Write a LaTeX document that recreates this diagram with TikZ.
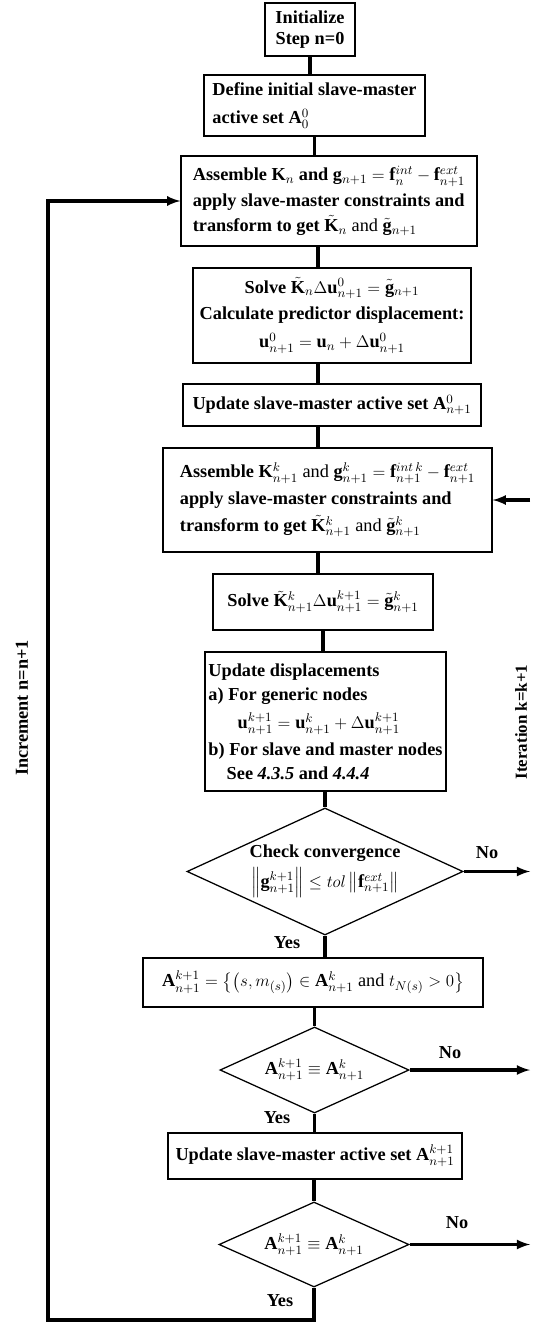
\documentclass[tikz,border=0pt]{standalone}
\usepackage{amsmath}
\usepackage{fontspec}
\setmainfont{Liberation Serif}
\usetikzlibrary{shapes.geometric,arrows,positioning}

\tikzset{
  stepbox/.style={draw, line width=0.9pt, inner sep=2pt, font=\bfseries\fontsize{13}{17}\selectfont},
  checkbox/.style={draw, diamond, aspect=2.2, line width=0.9pt, inner sep=0pt, align=center, font=\bfseries\fontsize{13}{17}\selectfont},
  flow/.style={line width=2.2pt},
  flowarr/.style={line width=2.2pt, >=latex, ->},
  tag/.style={inner sep=1pt, font=\bfseries\fontsize{13}{16}\selectfont}
}

\begin{document}
\begin{tikzpicture}[x=0.025cm,y=-0.025cm]
\useasboundingbox (0,0) rectangle (532,1325);
% helper coordinates
\coordinate (spine) at (318,0);
\coordinate (rim) at (530,0);
\coordinate (back) at (48,1320);
% boxes
\node (init) [stepbox, align=center, minimum width=2.25cm, minimum height=1.325cm, font=\bfseries\fontsize{13}{15}\selectfont] at (310,29.5) {Initialize\\Step n=0};
\node (defset) [stepbox, align=left, minimum width=5.525cm, minimum height=1.525cm] at (314.5,105.5) {Define initial slave-master\\[3pt]active set $\mathbf{A}_0^0$};
\node (asm0) [stepbox, align=left, minimum width=7.4cm, minimum height=2.25cm] at (329,201) {Assemble $\mathbf{K}_n$ and $\mathbf{g}_{n+1}=\mathbf{f}_n^{int}-\mathbf{f}_{n+1}^{ext}$\\[1pt]apply slave-master constraints and\\[1pt]transform to get $\tilde{\mathbf{K}}_n$ \textmd{and} $\tilde{\mathbf{g}}_{n+1}$};
\node (pred) [stepbox, align=center, minimum width=6.95cm, minimum height=2.375cm] at (332,315.5) {Solve $\tilde{\mathbf{K}}_n\Delta\mathbf{u}_{n+1}^0=\tilde{\mathbf{g}}_{n+1}$\\[2pt]Calculate predictor displacement:\\[3pt]$\mathbf{u}_{n+1}^0=\mathbf{u}_n+\Delta\mathbf{u}_{n+1}^0$};
\node (upd0) [stepbox, minimum width=7.45cm, minimum height=1.05cm] at (332,405) {Update slave-master active set $\mathbf{A}_{n+1}^0$};
\node (asmk) [stepbox, align=left, minimum width=8.225cm, minimum height=2.6cm] at (327.5,500) {Assemble $\mathbf{K}_{n+1}^k$ \textmd{and} $\mathbf{g}_{n+1}^k=\mathbf{f}_{n+1}^{int\,k}-\mathbf{f}_{n+1}^{ext}$\\[2pt]apply slave-master constraints and\\[2pt]transform to get $\tilde{\mathbf{K}}_{n+1}^k$ \textmd{and} $\tilde{\mathbf{g}}_{n+1}^k$};
\node (solvek) [stepbox, minimum width=5.5cm, minimum height=1.4cm] at (323,602) {Solve $\tilde{\mathbf{K}}_{n+1}^k\Delta\mathbf{u}_{n+1}^{k+1}=\tilde{\mathbf{g}}_{n+1}^k$};
\node (disp) [stepbox, align=left, minimum width=6.025cm, minimum height=3.475cm] at (325.5,721.5) {Update displacements\\a) For generic nodes\\[3pt]\hspace*{1.6em}$\mathbf{u}_{n+1}^{k+1}=\mathbf{u}_{n+1}^k+\Delta\mathbf{u}_{n+1}^{k+1}$\\[2pt]b) For slave and master nodes\\\hspace*{1em}See \textit{4.3.5} and \textit{4.4.4}};
\node (conv) [checkbox, minimum width=6.9cm, minimum height=3.175cm] at (325,871.5) {Check convergence\\[4pt]$\left\|\mathbf{g}_{n+1}^{k+1}\right\|\le tol\left\|\mathbf{f}_{n+1}^{ext}\right\|$};
\node (actset) [stepbox, minimum width=8.5cm, minimum height=1.225cm] at (313,982.5) {$\mathbf{A}_{n+1}^{k+1}=\left\{\left(s,m_{(s)}\right)\in\mathbf{A}_{n+1}^{k}\ \mathrm{and}\ t_{N(s)}>0\right\}$};
\node (same1) [checkbox, minimum width=4.725cm, minimum height=2.15cm] at (314.5,1070) {$\mathbf{A}_{n+1}^{k+1}\equiv\mathbf{A}_{n+1}^k$};
\node (updk) [stepbox, minimum width=7.35cm, minimum height=1.15cm] at (315,1156) {Update slave-master active set $\mathbf{A}_{n+1}^{k+1}$};
\node (same2) [checkbox, minimum width=4.75cm, minimum height=2.125cm] at (314,1244.5) {$\mathbf{A}_{n+1}^{k+1}\equiv\mathbf{A}_{n+1}^k$};
% labels
\node (no1) [tag] at (487,853) {No};
\node (no2) [tag] at (450,1053) {No};
\node (no3) [tag] at (457,1223) {No};
\node (yes1) [tag] at (287,943) {Yes};
\node (yes2) [tag] at (277,1118) {Yes};
\node (yes3) [tag] at (280,1301) {Yes};
\node (incr) [tag, rotate=90] at (22,708) {Increment n=n+1};
\node (iter) [tag, rotate=90, font=\bfseries\fontsize{12}{14}\selectfont] at (521,722) {Iteration k=k+1};
% connectors
\draw [flow] (init.south) -- (init.south |- defset.north);
\draw [flow] (defset.south) -- (defset.south |- asm0.north);
\draw [flow] (asm0.south -| spine) -- (pred.north -| spine);
\draw [flow] (pred.south -| spine) -- (upd0.north -| spine);
\draw [flow] (upd0.south -| spine) -- (asmk.north -| spine);
\draw [flow] (asmk.south -| spine) -- (solvek.north -| spine);
\draw [flow] (solvek.south) -- (solvek.south |- disp.north);
\draw [flow] (disp.south -| conv.north) -- (conv.north);
\draw [flow] (conv.south) -- (conv.south |- actset.north);
\draw [flow] (actset.south -| same1.north) -- (same1.north);
\draw [flow] (same1.south) -- (same1.south |- updk.north);
\draw [flow] (updk.south -| same2.north) -- (same2.north);
\draw [flowarr] (same2.south) |- (back) |- (asm0.west);
\draw [flowarr] (conv.east) -- (conv.east -| rim);
\draw [flowarr] (same1.east) -- (same1.east -| rim);
\draw [flowarr] (same2.east) -- (same2.east -| rim);
\draw [flowarr] (asmk.east -| rim) -- (asmk.east);
\end{tikzpicture}
\end{document}
